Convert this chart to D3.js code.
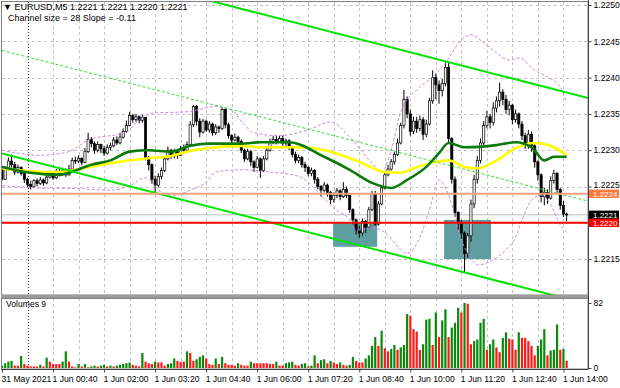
<!DOCTYPE html>
<html>
<head>
<meta charset="utf-8">
<script src="https://cdn.jsdelivr.net/npm/d3@7"></script>
<style>
body { margin: 0; background: #fff; }
svg { display: block; font-family: "Liberation Sans", Arial, sans-serif; }
</style>
</head>
<body>
<svg id="chart" width="620" height="388"></svg>
<script>
// EURUSD M5, prices kept as pips above 1.2200
var firstBar = "2021-05-31 23:20";
var firstOpen = 27.6;
var closes = [26.0,27.5,28.5,28.0,27.0,27.6,26.8,26.0,25.3,25.0,25.8,25.4,25.9,25.5,26.3,26.8,26.2,27.0,26.7,27.2,
  26.6,27.4,28.6,28.5,28.9,28.3,29.8,31.5,30.9,30.0,30.8,30.2,29.6,30.4,30.6,31.4,31.0,31.8,32.6,33.4,
  34.8,34.2,34.6,34.1,34.5,29.0,28.0,26.0,25.2,26.4,27.2,28.8,30.0,29.2,29.8,29.3,30.2,30.0,30.8,33.5,
  36.0,34.0,32.5,34.0,32.8,33.6,32.4,33.2,33.0,35.6,33.5,32.0,31.4,31.8,31.2,30.0,28.8,29.8,28.4,27.6,
  28.8,27.2,28.8,30.0,31.2,31.5,31.2,31.6,31.0,31.3,30.4,29.4,28.6,29.0,28.0,27.6,26.8,27.2,26.0,25.0,
  24.5,25.2,24.2,23.2,23.8,24.4,23.6,24.6,23.8,21.8,20.4,19.0,18.6,20.2,19.4,21.8,24.0,19.8,22.6,24.8,
  26.6,27.4,28.4,29.4,31.0,33.4,37.0,35.0,32.6,34.0,33.0,34.2,32.2,33.6,36.8,40.0,39.0,38.2,39.2,41.4,
  31.6,26.0,21.4,20.0,18.6,15.8,18.2,22.6,26.0,28.6,31.0,33.4,34.6,33.8,35.8,36.8,38.0,37.0,35.6,36.2,
  34.2,35.0,33.6,32.0,30.8,32.2,30.6,28.4,26.6,23.6,24.2,23.4,25.8,26.8,24.6,22.4,21.2,21.1];
var highs = [27.8,27.8,29.0,29.4,28.4,28.0,27.8,27.0,26.2,25.8,26.0,26.1,26.3,26.1,26.6,27.2,27.0,27.4,27.6,27.6,
  27.5,28.0,29.0,29.1,29.3,29.0,30.3,32.4,31.8,31.2,31.2,30.9,30.6,30.8,31.0,31.8,31.9,32.4,33.0,34.1,
  35.3,35.0,35.0,34.8,34.9,34.6,29.2,28.2,26.5,26.8,27.6,29.1,30.5,30.2,30.2,30.0,30.6,30.8,31.2,34.0,
  36.2,36.2,34.4,34.3,34.2,34.0,33.8,33.6,33.4,35.9,35.8,33.8,32.2,32.3,32.0,31.5,30.2,30.2,30.0,28.6,
  29.2,29.0,29.2,30.4,31.6,32.0,32.0,32.0,32.0,31.6,31.5,30.6,29.8,29.4,29.2,28.4,27.8,27.6,27.4,26.3,
  25.2,25.6,25.4,24.4,24.2,24.8,24.6,25.6,25.0,23.8,22.0,20.6,19.6,20.6,20.4,22.2,24.4,24.4,23.0,25.2,
  27.0,28.0,28.8,29.8,31.6,33.8,38.3,37.4,35.6,34.6,34.6,34.8,34.6,34.2,37.2,41.0,40.6,39.6,39.8,42.3,
  42.0,31.8,26.4,21.6,20.4,18.8,18.6,23.2,26.6,29.2,31.6,34.0,35.4,35.0,36.6,37.4,39.3,38.4,37.6,36.8,
  36.4,35.6,35.2,34.0,32.4,32.8,32.6,30.8,28.6,26.8,24.8,24.6,26.4,27.3,27.0,24.8,23.0,21.4];
var lows = [25.8,25.9,27.2,27.6,26.6,26.8,26.5,25.5,24.9,24.6,24.8,25.0,25.2,25.1,25.3,26.1,25.9,26.0,26.4,26.5,
  26.3,26.5,27.2,28.1,28.2,27.9,28.2,29.6,30.4,29.5,29.7,29.6,29.2,29.4,30.0,30.4,30.7,30.8,31.6,32.4,
  33.3,33.8,33.9,33.7,33.8,28.6,27.2,25.4,24.1,24.9,26.0,27.0,28.6,28.8,28.9,28.8,29.2,29.6,29.8,30.6,
  33.2,33.4,31.8,32.3,32.5,32.4,32.0,32.1,32.4,32.8,33.0,31.6,31.0,31.2,30.8,29.6,28.4,28.6,27.8,27.0,
  27.5,26.2,27.0,28.6,29.8,30.8,30.8,31.0,30.6,30.5,30.0,29.0,28.2,28.2,27.6,27.0,26.4,26.4,25.4,24.6,
  23.6,24.2,23.6,22.6,22.8,23.4,23.1,23.4,23.4,21.4,19.6,18.4,17.9,18.2,18.6,19.2,21.6,19.6,19.6,22.4,
  24.6,26.4,27.2,28.0,29.2,30.8,33.0,34.4,32.0,32.2,32.4,32.6,31.4,31.8,33.4,36.4,37.0,36.4,37.4,38.8,
  31.0,25.4,20.8,19.0,17.8,13.1,15.2,17.4,22.0,25.4,28.2,30.4,33.0,33.0,33.4,35.2,36.0,36.2,35.0,34.8,
  33.6,33.8,33.0,31.4,30.2,30.2,29.8,27.6,25.8,22.8,22.4,22.6,23.2,25.4,24.0,21.8,20.8,20.2];
var volumes = [3,6,8,9,3,3,15,5,3,2,2,2,4,2,13,8,5,5,5,8,21,8,2,1,5,2,5,1,2,3,
  2,3,4,2,3,2,3,4,5,6,7,4,3,2,19,8,6,5,8,7,7,3,5,6,12,9,8,8,21,19,
  9,11,14,16,12,5,4,12,5,14,6,4,4,3,6,4,3,3,8,6,6,6,6,6,5,5,8,3,3,6,
  7,8,4,3,5,6,2,
  3,16,6,10,11,6,9,7,5,7,4,3,4,14,9,7,7,12,16,28,39,28,47,25,21,24,29,23,26,29,
  68,66,49,46,23,30,61,62,29,70,39,60,74,39,51,57,76,70,82,81,30,34,36,57,62,23,30,36,26,20,
  38,45,37,36,23,45,38,38,34,28,16,28,36,49,16,22,23,55,23,24,9];

// moving averages and bands, read at sample bars
var yellowBars = [0,9,18,23,31,40,46,53,59,65,75,81,87,93,103,112,120,125,129,134,140,145,149,155,161,167,173,177];
var yellowMA = [27.5,27.1,27.0,27.3,28.0,28.6,28.9,29.2,29.9,30.3,30.6,30.4,30.4,30.4,29.8,28.4,27.0,26.9,27.5,28.2,28.6,27.7,27.5,28.6,30.3,31.0,30.4,29.3];
var greenBars = [0,9,18,21,28,34,40,46,53,59,65,75,81,90,101,109,116,122,127,133,137,140,145,155,161,166,170,173,177];
var greenMA = [27.7,26.9,26.6,26.9,28.0,28.6,29.8,30.0,29.8,30.6,30.9,30.9,31.1,31.1,29.1,27.3,25.5,24.8,25.9,27.7,29.6,31.0,30.4,30.7,31.1,30.4,28.6,29.1,29.1];
var upperBars = [0,12,21,27,39,43,47,58,67,72,76,79,87,96,103,109,116,119,122,125,131,135,139,144,147,151,155,159,162,167,171,175,177];
var upperBand = [30.0,29.3,29.8,31.4,32.5,34.2,35.1,35.3,36.0,35.5,33.5,32.4,32.0,32.8,33.9,31.8,28.2,27.0,30.0,35.3,38.7,40.1,42.0,45.2,45.9,44.8,43.4,42.4,42.7,41.0,40.1,38.7,36.5];
var lowerBars = [0,12,24,34,40,45,50,54,59,64,67,75,84,93,100,104,109,111,116,120,125,127,131,134,137,140,144,147,149,154,158,161,163,166,169,172,175,177];
var lowerBand = [25.1,24.8,24.7,24.5,25.1,26.2,24.2,23.8,24.5,25.6,27.0,27.3,27.0,26.4,23.8,22.0,20.4,19.0,19.3,18.7,16.3,15.8,18.0,21.8,25.9,23.8,17.6,15.2,14.2,14.9,16.3,18.0,20.4,23.1,23.8,22.5,19.7,18.7];

// regression channel
var channelBars = [0, 184];
var channelLower = [29.55, 8.76];
var channelSize = 28.4;
var channelText = "Channel size = 28 Slope = -0.11";

// marked zones and levels
var zoneFrom = [103.8, 138.6];
var zoneTo = [117.6, 153.3];
var zoneTop = [20.0, 20.4];
var zoneBottom = [16.7, 15.0];
var levelOrange = 1.2224;
var levelRed = 1.2220;

var priceTicks = [1.2215, 1.2220, 1.2225, 1.2230, 1.2235, 1.2240, 1.2245, 1.2250];
var volumeTicks = [0, 82];
var timeTicks = ["2021-05-31 23:20","2021-06-01 00:40","2021-06-01 02:00","2021-06-01 03:20","2021-06-01 04:40",
  "2021-06-01 06:00","2021-06-01 07:20","2021-06-01 08:40","2021-06-01 10:00","2021-06-01 11:20",
  "2021-06-01 12:40","2021-06-01 14:00"];

var svg = d3.select("#chart");
var left = 2, right = 588, mainTop = 2, mainBottom = 295, volTop = 298, volBottom = 369;
var step = 3.19;
var parse = d3.utcParse("%Y-%m-%d %H:%M");
var t0 = parse(firstBar);
var price = function(p) { return 1.22 + p / 10000; };
var barTime = function(i) { return new Date(t0.getTime() + i * 300000); };
var n = closes.length;

var bars = closes.map(function(c, i) {
  return { i: i, o: i == 0 ? firstOpen : closes[i - 1], c: c, h: highs[i], l: lows[i], v: volumes[i],
    up: i == 0 || volumes[i] > volumes[i - 1] };
});

var x = d3.scaleUtc().domain([barTime(0), barTime(n - 1)]).range([left, left + (n - 1) * step]);
var y = d3.scaleLinear().domain([1.2210, 1.2250]).range([295.4, 5]);
var yv = d3.scaleLinear().domain([0, 82]).range([368, 303]);
var xb = function(i) { return x(barTime(i)); };

var defs = svg.append("defs");
defs.append("clipPath").attr("id", "clipMain").append("rect")
  .attr("x", left).attr("y", mainTop).attr("width", right - left).attr("height", mainBottom - mainTop);
defs.append("clipPath").attr("id", "clipVol").append("rect")
  .attr("x", left).attr("y", volTop).attr("width", right - left).attr("height", volBottom - volTop);

// grid
var dayStart = d3.utcDay.ceil(barTime(0));
var gridTimes = d3.utcMinute.range(dayStart, new Date(barTime(n - 1).getTime() + 1), 40);
var grid = svg.append("g");
[[mainTop, mainBottom], [volTop, volBottom]].forEach(function(p) {
  grid.selectAll(null).data(gridTimes).enter().append("line")
    .attr("x1", function(d) { return Math.round(x(d)) + 0.5; })
    .attr("x2", function(d) { return Math.round(x(d)) + 0.5; })
    .attr("y1", p[0]).attr("y2", p[1])
    .attr("stroke", function(d, i) { return i == 0 ? "#333" : "#c4c4c4"; })
    .attr("stroke-dasharray", function(d, i) { return i == 0 ? "1,2" : "3,3"; });
});
grid.selectAll(null).data(priceTicks).enter().append("line")
  .attr("x1", left).attr("x2", right)
  .attr("y1", function(d) { return Math.round(y(d)) + 0.5; })
  .attr("y2", function(d) { return Math.round(y(d)) + 0.5; })
  .attr("stroke", "#c4c4c4").attr("stroke-dasharray", "3,3");

var main = svg.append("g").attr("clip-path", "url(#clipMain)");

// zones
main.selectAll(".zone").data(zoneFrom).enter().append("rect").attr("class", "zone")
  .attr("x", function(d) { return xb(d); })
  .attr("width", function(d, i) { return xb(zoneTo[i]) - xb(d); })
  .attr("y", function(d, i) { return y(price(zoneTop[i])); })
  .attr("height", function(d, i) { return y(price(zoneBottom[i])) - y(price(zoneTop[i])); })
  .attr("fill", "#5f9ea0");

// bid line
main.append("line").attr("x1", left).attr("x2", right)
  .attr("y1", y(price(closes[n - 1]))).attr("y2", y(price(closes[n - 1])))
  .attr("stroke", "#bdbdbd").attr("stroke-width", 1);

// candles
var candle = main.selectAll(".candle").data(bars).enter().append("g").attr("class", "candle");
candle.append("line")
  .attr("x1", function(d) { return xb(d.i); }).attr("x2", function(d) { return xb(d.i); })
  .attr("y1", function(d) { return y(price(d.h)); }).attr("y2", function(d) { return y(price(d.l)); })
  .attr("stroke", "#000").attr("stroke-width", 1);
candle.append("rect")
  .attr("x", function(d) { return xb(d.i) - 1.1; }).attr("width", 2.2)
  .attr("y", function(d) { return y(price(Math.max(d.o, d.c))); })
  .attr("height", function(d) { return Math.max(0.8, Math.abs(y(price(d.o)) - y(price(d.c)))); })
  .attr("fill", function(d) { return d.c >= d.o ? "#fff" : "#000"; })
  .attr("stroke", "#000").attr("stroke-width", 0.7);

// moving averages and bands
var lineGen = d3.line()
  .x(function(d) { return xb(d[0]); })
  .y(function(d) { return y(price(d[1])); })
  .curve(d3.curveMonotoneX);
var pairs = function(bs, vs) { return bs.map(function(b, i) { return [b, vs[i]]; }); };

main.append("path").attr("d", lineGen(pairs(upperBars, upperBand)))
  .attr("fill", "none").attr("stroke", "#c48ae6").attr("stroke-width", 1).attr("stroke-dasharray", "3,2");
main.append("path").attr("d", lineGen(pairs(lowerBars, lowerBand)))
  .attr("fill", "none").attr("stroke", "#c48ae6").attr("stroke-width", 1).attr("stroke-dasharray", "3,2");
main.append("path").attr("d", lineGen(pairs(yellowBars, yellowMA)))
  .attr("fill", "none").attr("stroke", "#ffff00").attr("stroke-width", 2.6);
main.append("path").attr("d", lineGen(pairs(greenBars, greenMA)))
  .attr("fill", "none").attr("stroke", "#0b7a0b").attr("stroke-width", 2.6);

// channel
var chan = d3.line().x(function(d) { return xb(d[0]); }).y(function(d) { return y(price(d[1])); });
var chanLines = [
  { off: 0, w: 2, dash: null, col: "#00e400" },
  { off: channelSize / 2, w: 1, dash: "3,2", col: "#3ddc3d" },
  { off: channelSize, w: 2, dash: null, col: "#00e400" }
];
chanLines.forEach(function(c) {
  main.append("path")
    .attr("d", chan(channelBars.map(function(b, i) { return [b, channelLower[i] + c.off]; })))
    .attr("fill", "none").attr("stroke", c.col).attr("stroke-width", c.w)
    .attr("stroke-dasharray", c.dash);
});

// levels
main.append("line").attr("x1", left).attr("x2", right)
  .attr("y1", y(levelOrange)).attr("y2", y(levelOrange))
  .attr("stroke", "#f4a27c").attr("stroke-width", 2);
main.append("line").attr("x1", left).attr("x2", right)
  .attr("y1", y(levelRed)).attr("y2", y(levelRed))
  .attr("stroke", "#ff0000").attr("stroke-width", 2);

// volumes
var vol = svg.append("g").attr("clip-path", "url(#clipVol)");
vol.selectAll("rect").data(bars).enter().append("rect")
  .attr("x", function(d) { return xb(d.i) - 1.1; }).attr("width", 2.2)
  .attr("y", function(d) { return yv(d.v); })
  .attr("height", function(d) { return yv(0) - yv(d.v); })
  .attr("fill", function(d) { return d.up ? "#0a8a0a" : "#ff1a1a"; });

// frames
var frame = svg.append("g").attr("fill", "none");
frame.append("rect").attr("x", 1.5).attr("y", 1.5).attr("width", right - 1.5).attr("height", mainBottom - 1.5)
  .attr("stroke", "#808080");
frame.append("rect").attr("x", 1).attr("y", mainBottom).attr("width", right - 1).attr("height", volTop - mainBottom)
  .attr("fill", "#9a9a9a");
frame.append("rect").attr("x", 1.5).attr("y", volTop + 0.5).attr("width", right - 1.5).attr("height", volBottom - volTop - 0.5)
  .attr("stroke", "#808080");
frame.append("line").attr("x1", right + 0.5).attr("x2", right + 0.5).attr("y1", 0).attr("y2", volBottom + 0.5)
  .attr("stroke", "#444");
frame.append("line").attr("x1", 1).attr("x2", right).attr("y1", volBottom + 0.5).attr("y2", volBottom + 0.5)
  .attr("stroke", "#444");

// axes (the red level tag covers its own tick)
var fmt4 = d3.format(".4f");
var priceAxis = svg.append("g").attr("transform", "translate(" + (right + 0.5) + ",0)")
  .call(d3.axisRight(y).tickValues(priceTicks.filter(function(d) { return d !== levelRed; }))
    .tickFormat(fmt4).tickSize(3).tickPadding(2));
var volAxis = svg.append("g").attr("transform", "translate(" + (right + 0.5) + ",0)")
  .call(d3.axisRight(yv).tickValues(volumeTicks).tickSize(3).tickPadding(2));
var timeAxis = svg.append("g").attr("transform", "translate(0," + (volBottom + 0.5) + ")")
  .call(d3.axisBottom(x).tickValues(timeTicks.map(parse)).tickSize(3).tickPadding(3)
    .tickFormat(function(d, i) { return i == 0 ? d3.utcFormat("%-d %b %Y")(d) : d3.utcFormat("%-d %b %H:%M")(d); }));
[priceAxis, volAxis, timeAxis].forEach(function(a) {
  a.select(".domain").remove();
  a.selectAll("text").attr("font-size", 8.6).attr("fill", "#000").attr("font-family", "Liberation Sans, Arial, sans-serif");
  a.selectAll("line").attr("stroke", "#444");
});
timeAxis.selectAll("text").attr("text-anchor", "start").attr("dx", -1);
priceAxis.selectAll(".tick").filter(function(d) { return d === 1.2225; }).select("text").attr("dy", "0.1em");

// price labels on the axis
var tags = [
  { p: levelOrange, col: "#ff7a3d" },
  { p: price(closes[n - 1]), col: "#000" },
  { p: levelRed, col: "#ff0000" }
];
tags.forEach(function(t) {
  var g = svg.append("g").attr("transform", "translate(" + (right + 1) + "," + y(t.p) + ")");
  g.append("rect").attr("x", 0).attr("y", -4.2).attr("width", 30).attr("height", 8.4).attr("fill", t.col);
  g.append("text").attr("x", 4).attr("y", 3).attr("font-size", 8).attr("fill", "#fff").text(fmt4(t.p));
});

// header texts
var last = bars[n - 1];
svg.append("text").attr("x", 3).attr("y", 10).attr("font-size", 9)
  .text("\u25BC EURUSD,M5  " + [last.o, last.h, last.l, last.c].map(function(p) { return fmt4(price(p)); }).join(" "));
svg.append("text").attr("x", 8).attr("y", 21).attr("font-size", 9).text(channelText);
svg.append("text").attr("x", 6).attr("y", 307).attr("font-size", 8.6).text("Volumes " + last.v);
</script>
</body>
</html>
